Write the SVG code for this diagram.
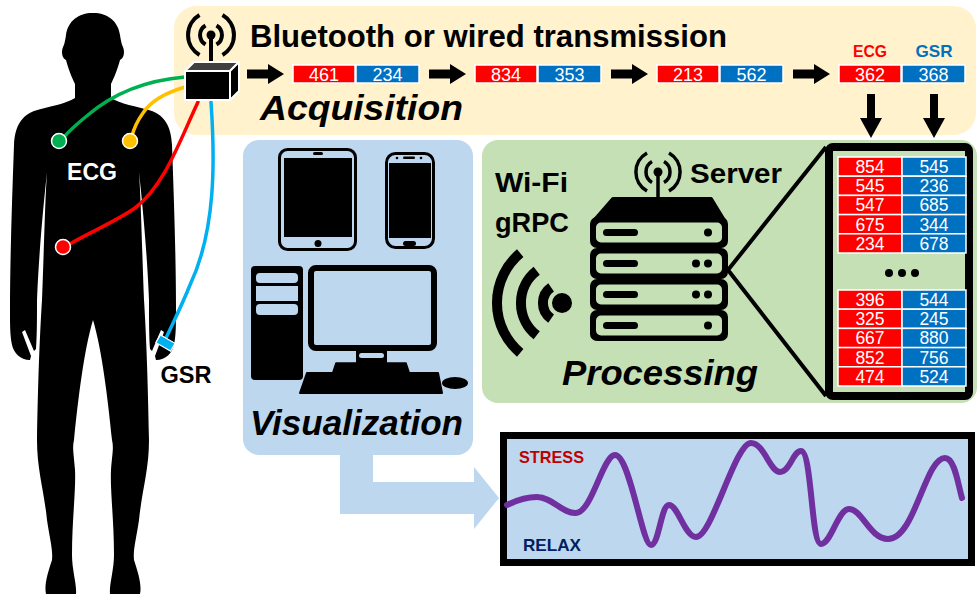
<svg xmlns="http://www.w3.org/2000/svg" xmlns:xlink="http://www.w3.org/1999/xlink" width="977" height="596" viewBox="0 0 977 596">
  <style>
    text { font-family: "Liberation Sans", Arial, sans-serif; font-weight: bold; }
    .title { font-size: 31px; fill: #000; }
    .stage { font-size: 35px; font-style: italic; fill: #000; }
    .cellT { font-size: 18px; font-weight: normal; fill: #fff; text-anchor: middle; }
    .tabT { font-size: 17.5px; font-weight: normal; fill: #fff; text-anchor: middle; }
    .red { fill: #FF0000; }
    .blue { fill: #0070C0; }
    .cell { stroke: #fff; stroke-width: 1.5; }
    .wire { fill: none; stroke-width: 3.5; stroke-linecap: round; }
    .arc { fill: none; stroke: #000; stroke-linecap: butt; }
    .label { font-size: 24px; }
  </style>
  <defs>
    <!-- block arrow pointing right, origin at shaft start, centred vertically -->
    <path id="rarrow" d="M0,-4.5 L21,-4.5 L21,-10 L37,0 L21,10 L21,4.5 L0,4.5 Z" fill="#000"/>
    <!-- block arrow pointing down -->
    <path id="darrow" d="M-4,0 L4,0 L4,24 L11,24 L0,44 L-11,24 L-4,24 Z" fill="#000"/>
    <!-- half of the human silhouette (left side) -->
    <path id="halfbody" d="M95,13 C80,12 68,20 66,35 C65,42 64,45 63,47 C61,52 62,58 66,60 C68,68 72,78 75,84 L75,98 C66,104 50,106 34,111 C22,116 15,125 14,145 C12,200 10,260 10,310 C10,325 10,335 12,345 C14,353 20,360 30,360 L31,356 L22,332 L25,330 L34,351 L36,349 C37,335 37,320 37,300 C39,250 44,200 47,172 C45,200 44,250 42,300 C40,330 38,380 37,440 C37,470 44,490 47,520 C50,540 53,550 52,560 C48,572 44,585 46,594 L76,594 C77,585 72,570 72,555 C72,520 76,490 75,470 C74,455 72,448 74,440 C78,400 84,350 93,320 L95,320 Z" fill="#000"/>
  </defs>

  <!-- stage panels -->
  <g id="acquisition-panel">
    <rect x="174" y="6" width="802" height="129" rx="22" fill="#FFF2CC"/>
  </g>
  <g id="visualization-panel">
    <rect x="243" y="140" width="230" height="315" rx="16" fill="#BDD7EE"/>
    <path d="M340,450 L340,514 L474,514 L474,529 L499,498 L474,467 L474,482 L373,482 L373,450 Z" fill="#BDD7EE"/>
  </g>
  <g id="processing-panel">
    <rect x="482" y="140" width="495" height="263" rx="16" fill="#C5E0B4"/>
  </g>

  <!-- human body with sensors -->
  <g id="body">
    <use xlink:href="#halfbody"/>
    <use xlink:href="#halfbody" transform="translate(186,0) scale(-1,1)"/>
    <text x="92" y="180" class="label" fill="#fff" text-anchor="middle" textLength="50" lengthAdjust="spacingAndGlyphs">ECG</text>
    <text x="186" y="383" class="label" fill="#000" text-anchor="middle" textLength="51" lengthAdjust="spacingAndGlyphs">GSR</text>
  </g>

  <!-- wires from electrodes to acquisition device -->
  <g id="connectors">
    <path class="wire" stroke="#00B050" d="M185,77 C150,80 115,92 88,115 C78,123 70,130 63,138"/>
    <path class="wire" stroke="#FFC000" d="M185,87 C165,93 150,102 143,113 C138,120 134,128 132,136"/>
    <path class="wire" stroke="#FF0000" d="M198,102 C180,140 165,185 135,208 C115,222 90,232 68,245"/>
    <path class="wire" stroke="#00B0F0" d="M211,102 C215,160 216,230 190,285 C182,305 172,325 166,338"/>

    <!-- data flow arrows -->
    <use xlink:href="#rarrow" x="247" y="74"/>
    <use xlink:href="#rarrow" x="429" y="74"/>
    <use xlink:href="#rarrow" x="611" y="74"/>
    <use xlink:href="#rarrow" x="793" y="74"/>
    <use xlink:href="#darrow" x="871" y="94"/>
    <use xlink:href="#darrow" x="934" y="94"/>

    <!-- server to data table -->
    <path d="M728,270 L826,147 M728,270 L826,396" stroke="#000" stroke-width="4" fill="none"/>
  </g>

  <g id="electrodes">
    <circle cx="59" cy="141" r="7.5" fill="#00B050" stroke="#fff" stroke-width="1.5"/>
    <circle cx="130" cy="141" r="7.5" fill="#FFC000" stroke="#fff" stroke-width="1.5"/>
    <circle cx="63" cy="247" r="7.5" fill="#FF0000" stroke="#fff" stroke-width="1.5"/>
    <rect x="157" y="338.5" width="17" height="9" fill="#00B0F0" stroke="#fff" stroke-width="1.2" transform="rotate(30 165.5 343)"/>
  </g>

  <!-- acquisition device with antenna -->
  <g id="device">
    <line x1="211" y1="35" x2="211" y2="63" stroke="#000" stroke-width="4"/>
    <circle cx="211" cy="35" r="4.5" fill="#000"/>
    <path class="arc" stroke-width="4" d="M205.5,25.5 A11,11 0 0 0 205.5,44.5 M216.5,25.5 A11,11 0 0 1 216.5,44.5 M199.5,15.1 A23,23 0 0 0 199.5,54.9 M222.5,15.1 A23,23 0 0 1 222.5,54.9"/>
    <path d="M185,71 L194,62 L239,62 L230,71 Z" fill="#404040" stroke="#fff" stroke-width="2" stroke-linejoin="round"/>
    <path d="M230,71 L239,62 L239,91 L230,100 Z" fill="#000" stroke="#fff" stroke-width="2" stroke-linejoin="round"/>
    <rect x="185" y="71" width="45" height="29" fill="#000" stroke="#fff" stroke-width="2"/>
  </g>

  <!-- acquisition stage -->
  <g id="acquisition">
    <text x="250" y="47" class="title" textLength="477" lengthAdjust="spacingAndGlyphs">Bluetooth or wired transmission</text>
    <text x="260" y="120" class="stage" textLength="203" lengthAdjust="spacingAndGlyphs">Acquisition</text>
    <text x="870" y="57" class="red" font-size="17" text-anchor="middle" textLength="34" lengthAdjust="spacingAndGlyphs">ECG</text>
    <text x="934" y="57" class="blue" font-size="17" text-anchor="middle" textLength="37" lengthAdjust="spacingAndGlyphs">GSR</text>

    <rect class="cell red" x="293" y="65" width="62" height="18"/>
    <rect class="cell blue" x="356" y="65" width="63" height="18"/>
    <text class="cellT" x="324" y="81">461</text>
    <text class="cellT" x="387.5" y="81">234</text>

    <rect class="cell red" x="475" y="65" width="62" height="18"/>
    <rect class="cell blue" x="538" y="65" width="63" height="18"/>
    <text class="cellT" x="506" y="81">834</text>
    <text class="cellT" x="569.5" y="81">353</text>

    <rect class="cell red" x="657" y="65" width="62" height="18"/>
    <rect class="cell blue" x="720" y="65" width="63" height="18"/>
    <text class="cellT" x="688" y="81">213</text>
    <text class="cellT" x="751.5" y="81">562</text>

    <rect class="cell red" x="839" y="65" width="62" height="18"/>
    <rect class="cell blue" x="902" y="65" width="63" height="18"/>
    <text class="cellT" x="870" y="81">362</text>
    <text class="cellT" x="933.5" y="81">368</text>
  </g>

  <!-- visualization devices -->
  <g id="visualization">
    <!-- tablet -->
    <rect x="279.5" y="149.5" width="76" height="100" rx="8" fill="none" stroke="#000" stroke-width="3"/>
    <rect x="284" y="158" width="68" height="79" fill="#000"/>
    <rect x="313" y="152" width="10" height="3" rx="1.5" fill="#000"/>
    <circle cx="318" cy="243.5" r="3.5" fill="#000"/>
    <!-- phone -->
    <rect x="386.5" y="153.5" width="47" height="94" rx="9" fill="none" stroke="#000" stroke-width="3"/>
    <rect x="389" y="163" width="42" height="75" fill="#000"/>
    <rect x="403" y="156.5" width="12" height="2.5" rx="1.2" fill="#000"/>
    <circle cx="397" cy="158" r="1.3" fill="#000"/>
    <circle cx="421" cy="158" r="1.3" fill="#000"/>
    <rect x="403" y="241" width="13" height="5" rx="2.5" fill="#000"/>
    <!-- tower -->
    <rect x="251" y="266" width="52" height="114" rx="4" fill="#000"/>
    <rect x="256" y="273" width="42" height="10" rx="4" fill="#BDD7EE"/>
    <rect x="256" y="286" width="42" height="15" fill="#BDD7EE"/>
    <rect x="256" y="304" width="42" height="11" rx="4" fill="#BDD7EE"/>
    <!-- monitor -->
    <rect x="311" y="268" width="123" height="80" rx="5" fill="#BDD7EE" stroke="#000" stroke-width="6"/>
    <rect x="356" y="349" width="31" height="15" fill="#000"/>
    <rect x="359" y="353" width="25" height="5" rx="2.5" fill="#BDD7EE"/>
    <path d="M336,363 L406,363 L409,372 L333,372 Z" fill="#000" stroke="#000" stroke-width="1.5" stroke-linejoin="round"/>
    <path d="M307,373 L438,373 L442,393 L300,393 Z" fill="#000" stroke="#000" stroke-width="2" stroke-linejoin="round"/>
    <ellipse cx="455" cy="383" rx="13" ry="6" fill="#000"/>
    <text x="250" y="435" class="stage" textLength="213" lengthAdjust="spacingAndGlyphs">Visualization</text>
  </g>

  <!-- processing server -->
  <g id="processing">
    <text x="495" y="192" font-size="28" textLength="73" lengthAdjust="spacingAndGlyphs">Wi-Fi</text>
    <text x="495" y="232" font-size="28" textLength="74" lengthAdjust="spacingAndGlyphs">gRPC</text>
    <text x="690" y="183" font-size="28" textLength="92" lengthAdjust="spacingAndGlyphs">Server</text>
    <text x="562" y="385" class="stage" textLength="196" lengthAdjust="spacingAndGlyphs">Processing</text>

    <!-- wifi waves -->
    <circle cx="562" cy="303" r="10" fill="#000"/>
    <path class="arc" stroke-width="10" d="M551.1,287.4 A19,19 0 0 0 551.1,318.6 M536.7,270.7 A41,41 0 0 0 536.7,335.3 M520.2,253.2 A65,65 0 0 0 520.2,352.8"/>

    <!-- server antenna -->
    <line x1="658" y1="172" x2="658" y2="201" stroke="#000" stroke-width="3.5"/>
    <circle cx="658" cy="172" r="4.5" fill="#000"/>
    <path class="arc" stroke-width="3.5" d="M652,161.6 A12,12 0 0 0 652,182.4 M664,161.6 A12,12 0 0 1 664,182.4 M647,152.9 A22,22 0 0 0 647,191.1 M669,152.9 A22,22 0 0 1 669,191.1"/>

    <!-- server rack -->
    <path d="M593,222 L613,199 L711,199 L725,222 Z" fill="#000" stroke="#000" stroke-width="4" stroke-linejoin="round"/>
    <g id="unit1">
      <rect x="590" y="217" width="138" height="31" rx="7" fill="#000"/>
      <rect x="596" y="222.5" width="126" height="20" rx="5" fill="#C5E0B4"/>
      <rect x="603" y="229" width="35" height="7" rx="3.5" fill="#000"/>
      <circle cx="708" cy="232.5" r="4" fill="#000"/>
    </g>
    <g id="unit2">
      <rect x="590" y="248" width="138" height="31" rx="7" fill="#000"/>
      <rect x="596" y="253.5" width="126" height="20" rx="5" fill="#C5E0B4"/>
      <rect x="603" y="260" width="35" height="7" rx="3.5" fill="#000"/>
      <circle cx="696" cy="263.5" r="4" fill="#000"/>
      <circle cx="708" cy="263.5" r="4" fill="#000"/>
    </g>
    <g id="unit3">
      <rect x="590" y="279" width="138" height="31" rx="7" fill="#000"/>
      <rect x="596" y="284.5" width="126" height="20" rx="5" fill="#C5E0B4"/>
      <rect x="603" y="291" width="35" height="7" rx="3.5" fill="#000"/>
      <circle cx="696" cy="294.5" r="4" fill="#000"/>
      <circle cx="708" cy="294.5" r="4" fill="#000"/>
    </g>
    <g id="unit4">
      <rect x="590" y="310" width="138" height="31" rx="7" fill="#000"/>
      <rect x="596" y="315.5" width="126" height="20" rx="5" fill="#C5E0B4"/>
      <rect x="603" y="322" width="35" height="7" rx="3.5" fill="#000"/>
      <circle cx="708" cy="325.5" r="4" fill="#000"/>
    </g>
  </g>

  <!-- stored samples table -->
  <g id="data-table">
    <rect x="829" y="147" width="140" height="249" rx="4" fill="#C5E0B4" stroke="#000" stroke-width="8"/>
    <g>
      <rect class="cell red" x="838" y="157" width="64" height="19.2"/><rect class="cell blue" x="902" y="157" width="64" height="19.2"/>
      <rect class="cell red" x="838" y="176.2" width="64" height="19.2"/><rect class="cell blue" x="902" y="176.2" width="64" height="19.2"/>
      <rect class="cell red" x="838" y="195.4" width="64" height="19.2"/><rect class="cell blue" x="902" y="195.4" width="64" height="19.2"/>
      <rect class="cell red" x="838" y="214.6" width="64" height="19.2"/><rect class="cell blue" x="902" y="214.6" width="64" height="19.2"/>
      <rect class="cell red" x="838" y="233.8" width="64" height="19.2"/><rect class="cell blue" x="902" y="233.8" width="64" height="19.2"/>
      <text class="tabT" x="870" y="173">854</text><text class="tabT" x="934" y="173">545</text>
      <text class="tabT" x="870" y="192.2">545</text><text class="tabT" x="934" y="192.2">236</text>
      <text class="tabT" x="870" y="211.4">547</text><text class="tabT" x="934" y="211.4">685</text>
      <text class="tabT" x="870" y="230.6">675</text><text class="tabT" x="934" y="230.6">344</text>
      <text class="tabT" x="870" y="249.8">234</text><text class="tabT" x="934" y="249.8">678</text>
    </g>
    <circle cx="889" cy="273" r="4" fill="#000"/>
    <circle cx="902" cy="273" r="4" fill="#000"/>
    <circle cx="915" cy="273" r="4" fill="#000"/>
    <g>
      <rect class="cell red" x="838" y="290" width="64" height="19.2"/><rect class="cell blue" x="902" y="290" width="64" height="19.2"/>
      <rect class="cell red" x="838" y="309.2" width="64" height="19.2"/><rect class="cell blue" x="902" y="309.2" width="64" height="19.2"/>
      <rect class="cell red" x="838" y="328.4" width="64" height="19.2"/><rect class="cell blue" x="902" y="328.4" width="64" height="19.2"/>
      <rect class="cell red" x="838" y="347.6" width="64" height="19.2"/><rect class="cell blue" x="902" y="347.6" width="64" height="19.2"/>
      <rect class="cell red" x="838" y="366.8" width="64" height="19.2"/><rect class="cell blue" x="902" y="366.8" width="64" height="19.2"/>
      <text class="tabT" x="870" y="306">396</text><text class="tabT" x="934" y="306">544</text>
      <text class="tabT" x="870" y="325.2">325</text><text class="tabT" x="934" y="325.2">245</text>
      <text class="tabT" x="870" y="344.4">667</text><text class="tabT" x="934" y="344.4">880</text>
      <text class="tabT" x="870" y="363.6">852</text><text class="tabT" x="934" y="363.6">756</text>
      <text class="tabT" x="870" y="382.8">474</text><text class="tabT" x="934" y="382.8">524</text>
    </g>
  </g>

  <!-- stress / relax chart -->
  <g id="chart">
    <rect x="503.5" y="435.5" width="468" height="127" fill="#BDD7EE" stroke="#000" stroke-width="7"/>
    <text x="519" y="463" font-size="17" fill="#C00000" textLength="65" lengthAdjust="spacingAndGlyphs">STRESS</text>
    <text x="523" y="551" font-size="17" fill="#002060" textLength="58" lengthAdjust="spacingAndGlyphs">RELAX</text>
    <path fill="none" stroke="#7030A0" stroke-width="6" stroke-linecap="round" stroke-linejoin="round"
      d="M507,505 C517,500 527,497 537,497 C552,497 563,514 576,513 C592,512 603,455 615,455 C630,455 642,545 651,545 C659,545 661,505 669,505 C678,505 685,537 696,537 C712,537 735,443 751,443 C764,443 770,472 780,472 C790,472 793,451 801,451 C812,451 811,544 821,544 C831,544 838,509 849,509 C862,509 870,539 888,539 C915,539 925,458 945,458 C955,458 958,485 962,498"/>
  </g>
</svg>
